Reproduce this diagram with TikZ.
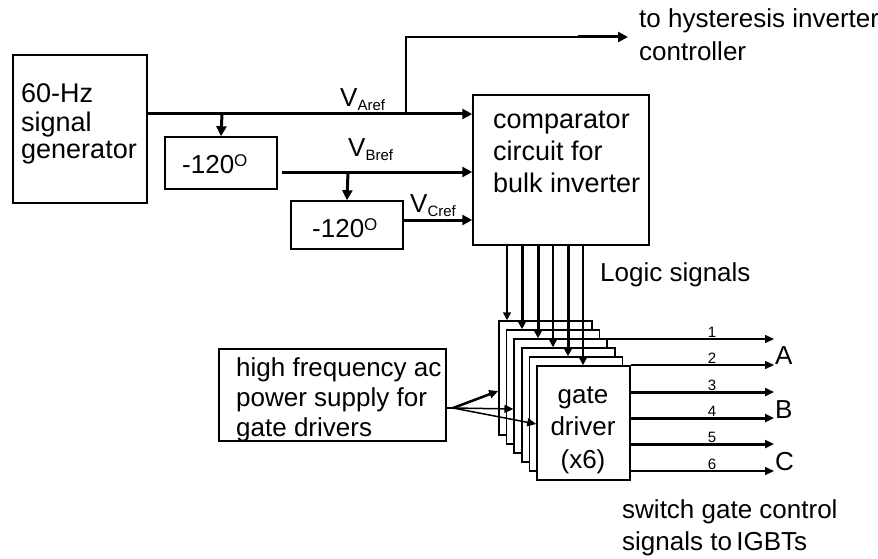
\documentclass[tikz,border=0pt]{standalone}
\usepackage{fontspec}
\setmainfont{Liberation Sans}
\usepackage{tikz}
\usetikzlibrary{arrows.meta,positioning,calc}
\newcommand{\lowidx}[1]{\raisebox{-4pt}{\fontsize{15}{15}\selectfont #1}}
\newcommand{\highidx}[1]{\raisebox{7pt}{\fontsize{17}{17}\selectfont #1}}

\begin{document}
\begin{tikzpicture}[x=1pt,y=-1pt,
  font=\fontsize{26}{28}\selectfont,
  blk/.style={draw,line width=1.5pt,fill=white,inner sep=0pt},
  txt/.style={anchor=base west,align=left,inner sep=0pt},
  sig/.style={line width=3pt,-{Triangle[length=10pt,width=10pt]}},
  wire/.style={line width=1.5pt,-{Triangle[length=9pt,width=8pt]}},
  num/.style={font=\fontsize{15}{15}\selectfont,anchor=south,inner sep=1pt}
]
\useasboundingbox (0,0) rectangle (878,559);

% reference chain (multi-line texts sit on their last baseline)
\node[blk,minimum width=134pt,minimum height=148pt] (gen) at (80,129) {};
\node[txt,font=\fontsize{27}{28}\selectfont] (gentxt) at (21,159) {60-Hz\\signal\\generator};
\node[blk,minimum width=112pt,minimum height=52pt] (shiftA) at (221,163) {};
\node[txt] (shiftAtxt) at (182,173) {-120\highidx{O}};
\node[blk,minimum width=112pt,minimum height=48pt] (shiftB) at (347,225) {};
\node[txt] (shiftBtxt) at (312,237) {-120\highidx{O}};
\node[blk,minimum width=176pt,minimum height=150pt] (comp) at (561,170) {};
\node[txt,font=\fontsize{27}{32}\selectfont] (comptxt) at (493,192) {comparator\\circuit for\\bulk inverter};

\coordinate (ja) at (222,114);
\coordinate (jh) at (406,114);
\coordinate (jb) at (348,172);
\coordinate (jc) at (403,220);
\coordinate (hk) at (578,37);
\coordinate (ht) at (628,37);

\draw[sig] (gen.east |- ja) -- (comp.west |- ja);
\draw[sig] (ja) -- (shiftA.north);
\draw[sig,shorten <=4pt] (shiftA.east |- jb) -- (comp.west |- jb);
\draw[sig] (jb) -- (shiftB.north);
\draw[sig] (jc) -- (comp.west |- jc);
\draw[line width=1.5pt] (jh) |- (hk);
\draw[sig] (hk) -- (ht);

\node[txt] (va) at (340,107) {V\lowidx{Aref}};
\node[txt] (vb) at (348,157) {V\lowidx{Bref}};
\node[txt] (vc) at (410,212) {V\lowidx{Cref}};
\node[txt,font=\fontsize{26}{33}\selectfont] (hyst) at (639,61) {to hysteresis inverter\\controller};

% gate drivers, back to front
\foreach \k in {1,...,6}
  \node[blk,minimum width=93pt,minimum height=114pt] (drv\k) at ({545.5+7.6*(\k-1)},{378+9*(\k-1)}) {};
\node[align=center,anchor=base,inner sep=0pt,font=\fontsize{26}{32.5}\selectfont] (drvtxt) at (583,468) {gate\\driver\\(x6)};

\foreach \k/\x/\w in {1/507/1.5pt,2/522/3pt,3/538/3pt,4/553/1.5pt,5/568/3pt,6/583/1.5pt}
  \draw[line width=\w,-{Triangle[length=8pt,width=8pt]}] (comp.south -| \x,0) -- (drv\k.north -| \x,0);
\node[txt] (logic) at (600,281) {Logic signals};

\foreach \k/\y/\w/\s in {1/339/1.5pt/3,2/365/1.5pt/6,3/392/3pt/6,4/418/3pt/6,5/444/3pt/6,6/471/1.5pt/6}{
  \coordinate (out\k) at (774,\y);
  \draw[line width=\w,-{Triangle[length=9pt,width=8pt]}] (drv\s.east |- out\k) -- (out\k);
  \node[num] (n\k) at (712,\y) {\k};
}
\node[anchor=west,inner sep=0pt] (phA) at (775,356) {A};
\node[anchor=west,inner sep=0pt] (phB) at (775,410) {B};
\node[anchor=west,inner sep=0pt] (phC) at (775,462) {C};
\node[txt,font=\fontsize{26}{32}\selectfont] (igbt) at (622,550) {switch gate control\\signals to\,IGBTs};

% gate driver supply
\node[blk,minimum width=227pt,minimum height=92pt] (hf) at (332.5,395) {};
\node[txt,font=\fontsize{26}{30}\selectfont] (hftxt) at (236,436) {high frequency ac\\power supply for\\gate drivers};
\coordinate (fan) at (453,408);
\draw[line width=1.5pt] (hf.east |- fan) -- (fan);
\draw[line width=2.5pt,-{Triangle[length=9pt,width=8pt]}] (fan) -- (drv1.west |- 0,391);
\draw[wire] (fan) -- (drv3.west |- 0,409);
\draw[wire] (fan) -- (drv6.west |- 0,424);
\end{tikzpicture}
\end{document}
